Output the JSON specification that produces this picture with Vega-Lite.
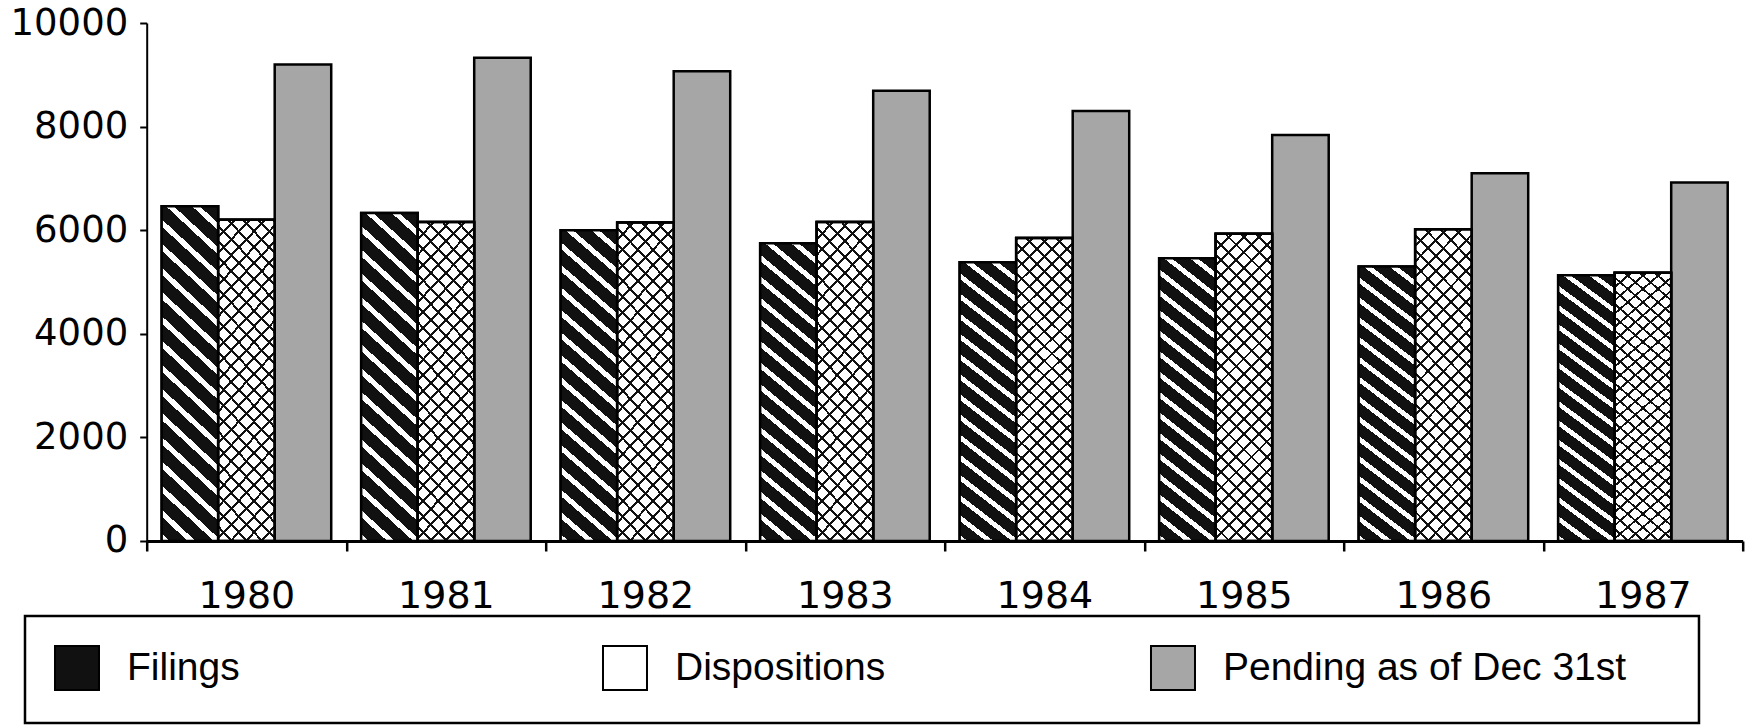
{
  "$schema": "https://vega.github.io/schema/vega-lite/v6.json",
  "width": 1596,
  "height": 518,
  "autosize": {"type": "none"},
  "padding": {"left": 146.7, "top": 23, "right": 4, "bottom": 186},
  "background": "white",
  "config": {"view": {"stroke": null}, "legend": {"strokeWidth": 2.5}},
  "data": {"values": [
    {"year": "1980", "series": "Filings", "count": 6460},
    {"year": "1980", "series": "Dispositions", "count": 6200},
    {"year": "1980", "series": "Pending as of Dec 31st", "count": 9200},
    {"year": "1981", "series": "Filings", "count": 6330},
    {"year": "1981", "series": "Dispositions", "count": 6160},
    {"year": "1981", "series": "Pending as of Dec 31st", "count": 9330},
    {"year": "1982", "series": "Filings", "count": 6000},
    {"year": "1982", "series": "Dispositions", "count": 6150},
    {"year": "1982", "series": "Pending as of Dec 31st", "count": 9070},
    {"year": "1983", "series": "Filings", "count": 5750},
    {"year": "1983", "series": "Dispositions", "count": 6160},
    {"year": "1983", "series": "Pending as of Dec 31st", "count": 8690},
    {"year": "1984", "series": "Filings", "count": 5380},
    {"year": "1984", "series": "Dispositions", "count": 5850},
    {"year": "1984", "series": "Pending as of Dec 31st", "count": 8300},
    {"year": "1985", "series": "Filings", "count": 5460},
    {"year": "1985", "series": "Dispositions", "count": 5930},
    {"year": "1985", "series": "Pending as of Dec 31st", "count": 7840},
    {"year": "1986", "series": "Filings", "count": 5300},
    {"year": "1986", "series": "Dispositions", "count": 6020},
    {"year": "1986", "series": "Pending as of Dec 31st", "count": 7100},
    {"year": "1987", "series": "Filings", "count": 5130},
    {"year": "1987", "series": "Dispositions", "count": 5180},
    {"year": "1987", "series": "Pending as of Dec 31st", "count": 6920}
  ]},
  "encoding": {
    "x": {
      "field": "year", "type": "nominal",
      "scale": {"paddingInner": 0, "paddingOuter": 0},
      "axis": {"title": null, "labelAngle": 0, "tickBand": "extent", "tickSize": 10, "tickWidth": 2.5, "tickColor": "black", "domainColor": "black", "domainWidth": 3, "labelFont": "DejaVu Sans", "labelFontSize": 38, "labelColor": "black", "labelPadding": 27, "labelOverlap": false}
    },
    "xOffset": {
      "field": "series", "type": "nominal",
      "scale": {"domain": ["Filings", "Dispositions", "Pending as of Dec 31st"], "paddingInner": 0, "paddingOuter": 0.265}
    },
    "y": {
      "field": "count", "type": "quantitative",
      "scale": {"domain": [0, 10000], "nice": false},
      "axis": {"title": null, "format": "d", "values": [0, 2000, 4000, 6000, 8000, 10000], "grid": false, "tickSize": 7, "tickWidth": 2, "tickColor": "black", "domainColor": "black", "domainWidth": 2, "labelFont": "DejaVu Sans", "labelFontSize": 37, "labelColor": "black", "labelPadding": 12}
    }
  },
  "layer": [
    {
      "mark": {"type": "bar", "strokeWidth": 2.5},
      "encoding": {
        "fill": {
          "field": "series", "type": "nominal",
          "scale": {"domain": ["Filings", "Dispositions", "Pending as of Dec 31st"], "range": ["#111111", "#ffffff", "#a6a6a6"]},
          "legend": {
            "title": " ", "titleOrient": "right", "titlePadding": 44,
            "orient": "none", "legendX": -121.7, "legendY": 593,
            "direction": "horizontal", "columns": 3, "gridAlign": "all", "columnPadding": 68,
            "padding": 29, "strokeColor": "black", "fillColor": "white",
            "symbolType": "square", "symbolSize": 1936, "symbolStrokeWidth": 2, "symbolOpacity": 1,
            "labelFont": "Liberation Sans", "labelFontSize": 39, "labelColor": "black", "labelOffset": 27, "labelLimit": 800
          }
        },
        "stroke": {
          "field": "series", "type": "nominal",
          "scale": {"domain": ["Filings", "Dispositions", "Pending as of Dec 31st"], "range": ["#000000", "#000000", "#000000"]}
        }
      }
    },
    {
      "transform": [{"filter": "datum.series === 'Filings'"}],
      "mark": {"type": "bar", "stroke": "black", "strokeWidth": 2.5, "fill": {"gradient": "linear", "x1": 1, "y1": 0, "x2": 0.8226, "y2": 1.129, "stops": [
        {"offset": 0, "color": "#111"}, {"offset": 0.04375, "color": "#111"}, {"offset": 0.04375, "color": "#fff"}, {"offset": 0.0625, "color": "#fff"},
        {"offset": 0.0625, "color": "#111"}, {"offset": 0.10625, "color": "#111"}, {"offset": 0.10625, "color": "#fff"}, {"offset": 0.125, "color": "#fff"},
        {"offset": 0.125, "color": "#111"}, {"offset": 0.16875, "color": "#111"}, {"offset": 0.16875, "color": "#fff"}, {"offset": 0.1875, "color": "#fff"},
        {"offset": 0.1875, "color": "#111"}, {"offset": 0.23125, "color": "#111"}, {"offset": 0.23125, "color": "#fff"}, {"offset": 0.25, "color": "#fff"},
        {"offset": 0.25, "color": "#111"}, {"offset": 0.29375, "color": "#111"}, {"offset": 0.29375, "color": "#fff"}, {"offset": 0.3125, "color": "#fff"},
        {"offset": 0.3125, "color": "#111"}, {"offset": 0.35625, "color": "#111"}, {"offset": 0.35625, "color": "#fff"}, {"offset": 0.375, "color": "#fff"},
        {"offset": 0.375, "color": "#111"}, {"offset": 0.41875, "color": "#111"}, {"offset": 0.41875, "color": "#fff"}, {"offset": 0.4375, "color": "#fff"},
        {"offset": 0.4375, "color": "#111"}, {"offset": 0.48125, "color": "#111"}, {"offset": 0.48125, "color": "#fff"}, {"offset": 0.5, "color": "#fff"},
        {"offset": 0.5, "color": "#111"}, {"offset": 0.54375, "color": "#111"}, {"offset": 0.54375, "color": "#fff"}, {"offset": 0.5625, "color": "#fff"},
        {"offset": 0.5625, "color": "#111"}, {"offset": 0.60625, "color": "#111"}, {"offset": 0.60625, "color": "#fff"}, {"offset": 0.625, "color": "#fff"},
        {"offset": 0.625, "color": "#111"}, {"offset": 0.66875, "color": "#111"}, {"offset": 0.66875, "color": "#fff"}, {"offset": 0.6875, "color": "#fff"},
        {"offset": 0.6875, "color": "#111"}, {"offset": 0.73125, "color": "#111"}, {"offset": 0.73125, "color": "#fff"}, {"offset": 0.75, "color": "#fff"},
        {"offset": 0.75, "color": "#111"}, {"offset": 0.79375, "color": "#111"}, {"offset": 0.79375, "color": "#fff"}, {"offset": 0.8125, "color": "#fff"},
        {"offset": 0.8125, "color": "#111"}, {"offset": 0.85625, "color": "#111"}, {"offset": 0.85625, "color": "#fff"}, {"offset": 0.875, "color": "#fff"},
        {"offset": 0.875, "color": "#111"}, {"offset": 0.91875, "color": "#111"}, {"offset": 0.91875, "color": "#fff"}, {"offset": 0.9375, "color": "#fff"},
        {"offset": 0.9375, "color": "#111"}, {"offset": 0.98125, "color": "#111"}, {"offset": 0.98125, "color": "#fff"}, {"offset": 1, "color": "#fff"}]}}
    },
    {
      "transform": [{"filter": "datum.series === 'Dispositions'"}],
      "mark": {"type": "bar", "stroke": "black", "strokeWidth": 2.5, "fill": {"gradient": "linear", "x1": 1, "y1": 0, "x2": 0.7893, "y2": 1.145, "stops": [
        {"offset": 0, "color": "#111"}, {"offset": 0.008, "color": "#111"}, {"offset": 0.008, "color": "#fff"}, {"offset": 0.041667, "color": "#fff"},
        {"offset": 0.041667, "color": "#111"}, {"offset": 0.049667, "color": "#111"}, {"offset": 0.049667, "color": "#fff"}, {"offset": 0.083333, "color": "#fff"},
        {"offset": 0.083333, "color": "#111"}, {"offset": 0.091333, "color": "#111"}, {"offset": 0.091333, "color": "#fff"}, {"offset": 0.125, "color": "#fff"},
        {"offset": 0.125, "color": "#111"}, {"offset": 0.133, "color": "#111"}, {"offset": 0.133, "color": "#fff"}, {"offset": 0.166667, "color": "#fff"},
        {"offset": 0.166667, "color": "#111"}, {"offset": 0.174667, "color": "#111"}, {"offset": 0.174667, "color": "#fff"}, {"offset": 0.208333, "color": "#fff"},
        {"offset": 0.208333, "color": "#111"}, {"offset": 0.216333, "color": "#111"}, {"offset": 0.216333, "color": "#fff"}, {"offset": 0.25, "color": "#fff"},
        {"offset": 0.25, "color": "#111"}, {"offset": 0.258, "color": "#111"}, {"offset": 0.258, "color": "#fff"}, {"offset": 0.291667, "color": "#fff"},
        {"offset": 0.291667, "color": "#111"}, {"offset": 0.299667, "color": "#111"}, {"offset": 0.299667, "color": "#fff"}, {"offset": 0.333333, "color": "#fff"},
        {"offset": 0.333333, "color": "#111"}, {"offset": 0.341333, "color": "#111"}, {"offset": 0.341333, "color": "#fff"}, {"offset": 0.375, "color": "#fff"},
        {"offset": 0.375, "color": "#111"}, {"offset": 0.383, "color": "#111"}, {"offset": 0.383, "color": "#fff"}, {"offset": 0.416667, "color": "#fff"},
        {"offset": 0.416667, "color": "#111"}, {"offset": 0.424667, "color": "#111"}, {"offset": 0.424667, "color": "#fff"}, {"offset": 0.458333, "color": "#fff"},
        {"offset": 0.458333, "color": "#111"}, {"offset": 0.466333, "color": "#111"}, {"offset": 0.466333, "color": "#fff"}, {"offset": 0.5, "color": "#fff"},
        {"offset": 0.5, "color": "#111"}, {"offset": 0.508, "color": "#111"}, {"offset": 0.508, "color": "#fff"}, {"offset": 0.541667, "color": "#fff"},
        {"offset": 0.541667, "color": "#111"}, {"offset": 0.549667, "color": "#111"}, {"offset": 0.549667, "color": "#fff"}, {"offset": 0.583333, "color": "#fff"},
        {"offset": 0.583333, "color": "#111"}, {"offset": 0.591333, "color": "#111"}, {"offset": 0.591333, "color": "#fff"}, {"offset": 0.625, "color": "#fff"},
        {"offset": 0.625, "color": "#111"}, {"offset": 0.633, "color": "#111"}, {"offset": 0.633, "color": "#fff"}, {"offset": 0.666667, "color": "#fff"},
        {"offset": 0.666667, "color": "#111"}, {"offset": 0.674667, "color": "#111"}, {"offset": 0.674667, "color": "#fff"}, {"offset": 0.708333, "color": "#fff"},
        {"offset": 0.708333, "color": "#111"}, {"offset": 0.716333, "color": "#111"}, {"offset": 0.716333, "color": "#fff"}, {"offset": 0.75, "color": "#fff"},
        {"offset": 0.75, "color": "#111"}, {"offset": 0.758, "color": "#111"}, {"offset": 0.758, "color": "#fff"}, {"offset": 0.791667, "color": "#fff"},
        {"offset": 0.791667, "color": "#111"}, {"offset": 0.799667, "color": "#111"}, {"offset": 0.799667, "color": "#fff"}, {"offset": 0.833333, "color": "#fff"},
        {"offset": 0.833333, "color": "#111"}, {"offset": 0.841333, "color": "#111"}, {"offset": 0.841333, "color": "#fff"}, {"offset": 0.875, "color": "#fff"},
        {"offset": 0.875, "color": "#111"}, {"offset": 0.883, "color": "#111"}, {"offset": 0.883, "color": "#fff"}, {"offset": 0.916667, "color": "#fff"},
        {"offset": 0.916667, "color": "#111"}, {"offset": 0.924667, "color": "#111"}, {"offset": 0.924667, "color": "#fff"}, {"offset": 0.958333, "color": "#fff"},
        {"offset": 0.958333, "color": "#111"}, {"offset": 0.966333, "color": "#111"}, {"offset": 0.966333, "color": "#fff"}, {"offset": 1, "color": "#fff"}]}}
    },
    {
      "transform": [{"filter": "datum.series === 'Dispositions'"}],
      "mark": {"type": "bar", "stroke": "black", "strokeWidth": 2.5, "fill": {"gradient": "linear", "x1": 0, "y1": 0, "x2": 0.2107, "y2": 1.145, "stops": [
        {"offset": 0, "color": "#111"}, {"offset": 0.008, "color": "#111"}, {"offset": 0.008, "color": "rgba(0,0,0,0)"}, {"offset": 0.041667, "color": "rgba(0,0,0,0)"},
        {"offset": 0.041667, "color": "#111"}, {"offset": 0.049667, "color": "#111"}, {"offset": 0.049667, "color": "rgba(0,0,0,0)"}, {"offset": 0.083333, "color": "rgba(0,0,0,0)"},
        {"offset": 0.083333, "color": "#111"}, {"offset": 0.091333, "color": "#111"}, {"offset": 0.091333, "color": "rgba(0,0,0,0)"}, {"offset": 0.125, "color": "rgba(0,0,0,0)"},
        {"offset": 0.125, "color": "#111"}, {"offset": 0.133, "color": "#111"}, {"offset": 0.133, "color": "rgba(0,0,0,0)"}, {"offset": 0.166667, "color": "rgba(0,0,0,0)"},
        {"offset": 0.166667, "color": "#111"}, {"offset": 0.174667, "color": "#111"}, {"offset": 0.174667, "color": "rgba(0,0,0,0)"}, {"offset": 0.208333, "color": "rgba(0,0,0,0)"},
        {"offset": 0.208333, "color": "#111"}, {"offset": 0.216333, "color": "#111"}, {"offset": 0.216333, "color": "rgba(0,0,0,0)"}, {"offset": 0.25, "color": "rgba(0,0,0,0)"},
        {"offset": 0.25, "color": "#111"}, {"offset": 0.258, "color": "#111"}, {"offset": 0.258, "color": "rgba(0,0,0,0)"}, {"offset": 0.291667, "color": "rgba(0,0,0,0)"},
        {"offset": 0.291667, "color": "#111"}, {"offset": 0.299667, "color": "#111"}, {"offset": 0.299667, "color": "rgba(0,0,0,0)"}, {"offset": 0.333333, "color": "rgba(0,0,0,0)"},
        {"offset": 0.333333, "color": "#111"}, {"offset": 0.341333, "color": "#111"}, {"offset": 0.341333, "color": "rgba(0,0,0,0)"}, {"offset": 0.375, "color": "rgba(0,0,0,0)"},
        {"offset": 0.375, "color": "#111"}, {"offset": 0.383, "color": "#111"}, {"offset": 0.383, "color": "rgba(0,0,0,0)"}, {"offset": 0.416667, "color": "rgba(0,0,0,0)"},
        {"offset": 0.416667, "color": "#111"}, {"offset": 0.424667, "color": "#111"}, {"offset": 0.424667, "color": "rgba(0,0,0,0)"}, {"offset": 0.458333, "color": "rgba(0,0,0,0)"},
        {"offset": 0.458333, "color": "#111"}, {"offset": 0.466333, "color": "#111"}, {"offset": 0.466333, "color": "rgba(0,0,0,0)"}, {"offset": 0.5, "color": "rgba(0,0,0,0)"},
        {"offset": 0.5, "color": "#111"}, {"offset": 0.508, "color": "#111"}, {"offset": 0.508, "color": "rgba(0,0,0,0)"}, {"offset": 0.541667, "color": "rgba(0,0,0,0)"},
        {"offset": 0.541667, "color": "#111"}, {"offset": 0.549667, "color": "#111"}, {"offset": 0.549667, "color": "rgba(0,0,0,0)"}, {"offset": 0.583333, "color": "rgba(0,0,0,0)"},
        {"offset": 0.583333, "color": "#111"}, {"offset": 0.591333, "color": "#111"}, {"offset": 0.591333, "color": "rgba(0,0,0,0)"}, {"offset": 0.625, "color": "rgba(0,0,0,0)"},
        {"offset": 0.625, "color": "#111"}, {"offset": 0.633, "color": "#111"}, {"offset": 0.633, "color": "rgba(0,0,0,0)"}, {"offset": 0.666667, "color": "rgba(0,0,0,0)"},
        {"offset": 0.666667, "color": "#111"}, {"offset": 0.674667, "color": "#111"}, {"offset": 0.674667, "color": "rgba(0,0,0,0)"}, {"offset": 0.708333, "color": "rgba(0,0,0,0)"},
        {"offset": 0.708333, "color": "#111"}, {"offset": 0.716333, "color": "#111"}, {"offset": 0.716333, "color": "rgba(0,0,0,0)"}, {"offset": 0.75, "color": "rgba(0,0,0,0)"},
        {"offset": 0.75, "color": "#111"}, {"offset": 0.758, "color": "#111"}, {"offset": 0.758, "color": "rgba(0,0,0,0)"}, {"offset": 0.791667, "color": "rgba(0,0,0,0)"},
        {"offset": 0.791667, "color": "#111"}, {"offset": 0.799667, "color": "#111"}, {"offset": 0.799667, "color": "rgba(0,0,0,0)"}, {"offset": 0.833333, "color": "rgba(0,0,0,0)"},
        {"offset": 0.833333, "color": "#111"}, {"offset": 0.841333, "color": "#111"}, {"offset": 0.841333, "color": "rgba(0,0,0,0)"}, {"offset": 0.875, "color": "rgba(0,0,0,0)"},
        {"offset": 0.875, "color": "#111"}, {"offset": 0.883, "color": "#111"}, {"offset": 0.883, "color": "rgba(0,0,0,0)"}, {"offset": 0.916667, "color": "rgba(0,0,0,0)"},
        {"offset": 0.916667, "color": "#111"}, {"offset": 0.924667, "color": "#111"}, {"offset": 0.924667, "color": "rgba(0,0,0,0)"}, {"offset": 0.958333, "color": "rgba(0,0,0,0)"},
        {"offset": 0.958333, "color": "#111"}, {"offset": 0.966333, "color": "#111"}, {"offset": 0.966333, "color": "rgba(0,0,0,0)"}, {"offset": 1, "color": "rgba(0,0,0,0)"}]}}
    }
  ]
}
